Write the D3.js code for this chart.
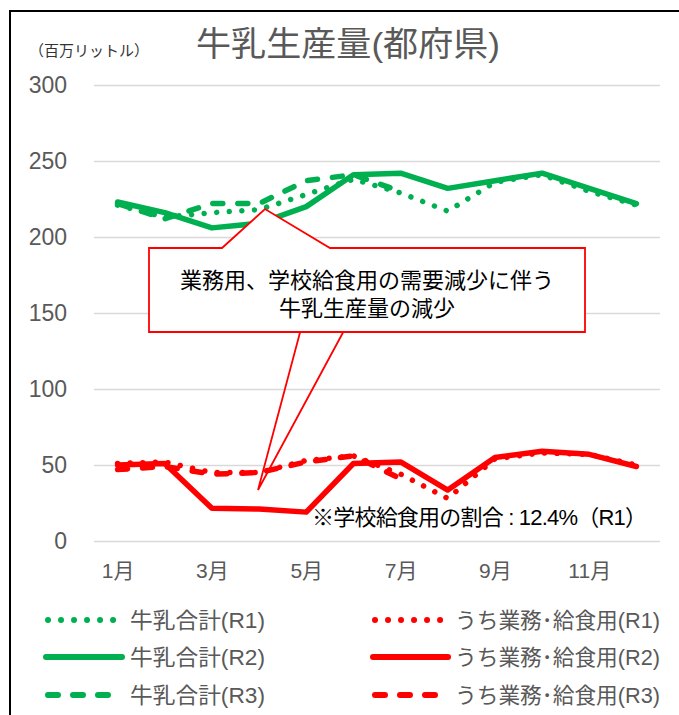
<!DOCTYPE html>
<html>
<head>
<meta charset="utf-8">
<script src="https://cdn.jsdelivr.net/npm/d3@7"></script>
<style>
  html, body { margin: 0; padding: 0; background: #fff; }
  svg { display: block; }
  text { font-family: "Liberation Sans", Arial, "Noto Sans CJK JP", sans-serif; }
</style>
</head>
<body>
<svg id="chart" width="679" height="715"></svg>
<script>
// Monthly milk production, prefectures excluding Hokkaido (million litres)
const months = ["1月","2月","3月","4月","5月","6月","7月","8月","9月","10月","11月","12月"];
const monthTickLabels = ["1月","3月","5月","7月","9月","11月"];
const yTicks = [0, 50, 100, 150, 200, 250, 300];

const milkTotalR1 = [221, 213, 216, 218, 228, 238, 229, 217, 236, 241, 230, 221];
const milkTotalR2 = [223, 216, 206, 209, 220, 241, 242, 232, 237, 242, 232, 222];
const milkTotalR3 = [222, 212, 222, 222, 237, 241, 230];
const bizSchoolR1 = [51, 52, 45, 45, 53, 56, 44, 28, 54, 58, 57, 50];
const bizSchoolR2 = [50, 51, 21.5, 21, 19, 51, 52, 33.5, 55, 59, 57, 49];
const bizSchoolR3 = [47, 49, 44, 45, 52, 56, 41];

const seriesNames = ["牛乳合計(R1)", "牛乳合計(R2)", "牛乳合計(R3)",
                     "うち業務･給食用(R1)", "うち業務･給食用(R2)", "うち業務･給食用(R3)"];

const titleText = "牛乳生産量(都府県)";
const unitText = "（百万リットル）";
const calloutLines = ["業務用、学校給食用の需要減少に伴う", "牛乳生産量の減少"];
const noteText = "※学校給食用の割合 : 12.4%（R1）";

const GREEN = "#00B050", RED = "#FF0000", GREY = "#595959";
const styles = {
  dot:   { dash: "0.01 12.6" },
  solid: { dash: null },
  dash:  { dash: "10 15" }
};

const series = [
  { name: seriesNames[0], values: milkTotalR1, color: GREEN, style: "dot" },
  { name: seriesNames[1], values: milkTotalR2, color: GREEN, style: "solid" },
  { name: seriesNames[2], values: milkTotalR3, color: GREEN, style: "dash" },
  { name: seriesNames[3], values: bizSchoolR1, color: RED, style: "dot" },
  { name: seriesNames[4], values: bizSchoolR2, color: RED, style: "solid" },
  { name: seriesNames[5], values: bizSchoolR3, color: RED, style: "dash" }
];

const svg = d3.select("#chart");

// chart area frame
svg.append("rect")
  .attr("x", 10).attr("y", 11).attr("width", 720).attr("height", 730)
  .attr("fill", "#fff").attr("stroke", "#000").attr("stroke-width", 2);

const x = d3.scalePoint().domain(months).range([94, 660]).padding(0.5);
const y = d3.scaleLinear().domain([0, 300]).range([541, 85]);

// gridlines + y labels
const yAxis = d3.axisLeft(y).tickValues(yTicks).tickSize(-(660 - 94)).tickPadding(27);
const gy = svg.append("g").attr("transform", "translate(94,0)").call(yAxis);
gy.select(".domain").remove();
gy.selectAll(".tick line").attr("stroke", "#d9d9d9").attr("stroke-width", 1.5);
gy.selectAll(".tick text").attr("fill", GREY).attr("font-size", 23)
  .attr("font-family", "'Liberation Sans', Arial, sans-serif");

// x labels
const xAxis = d3.axisBottom(x).tickValues(monthTickLabels).tickSize(0).tickPadding(0);
const gx = svg.append("g").attr("transform", "translate(0,571)").call(xAxis);
gx.select(".domain").remove();
gx.selectAll(".tick text").attr("fill", GREY).attr("font-size", 21).attr("dy", "0.35em")
  .attr("font-family", "'Liberation Sans', Arial, 'Noto Sans CJK JP', sans-serif");

// unit label and title
svg.append("text").attr("x", 29).attr("y", 50).attr("dominant-baseline", "central")
  .attr("font-size", 15).attr("fill", "#333").text(unitText);
svg.append("text").attr("x", 196).attr("y", 44).attr("dominant-baseline", "central")
  .attr("font-size", 34).attr("fill", GREY)
  .attr("textLength", 304).attr("lengthAdjust", "spacingAndGlyphs").text(titleText);

// data lines
const line = d3.line().x((d, i) => x(months[i])).y(d => y(d));
svg.append("g").selectAll("path").data(series).join("path")
  .attr("d", d => line(d.values))
  .attr("fill", "none")
  .attr("stroke", d => d.color)
  .attr("stroke-width", 5.5)
  .attr("stroke-linecap", "round")
  .attr("stroke-linejoin", "round")
  .attr("stroke-dasharray", d => styles[d.style].dash);

// callout box with pointers
const callout = svg.append("g");
callout.append("path")
  .attr("d", "M149,248 L222,248 L265,209 L330,248 L585,248 L585,332 L149,332 Z")
  .attr("fill", "#fff").attr("stroke", RED).attr("stroke-width", 1.8);
callout.append("path")
  .attr("d", "M300,332.5 L258,490 L343,332.5")
  .attr("fill", "none").attr("stroke", RED).attr("stroke-width", 1.8);
callout.selectAll("text.c").data(calloutLines).join("text")
  .attr("class", "c")
  .attr("x", 367).attr("y", (d, i) => 280 + i * 28)
  .attr("text-anchor", "middle").attr("dominant-baseline", "central")
  .attr("font-size", 22).attr("fill", "#000").text(d => d);

// note
svg.append("text").attr("x", 312).attr("y", 517).attr("dominant-baseline", "central")
  .attr("font-size", 22).attr("fill", "#000")
  .attr("textLength", 335).attr("lengthAdjust", "spacing").text(noteText);

// legend
const legendCols = [
  { x0: 46, x1: 120, tx: 130, tw: 135 },
  { x0: 373, x1: 446, tx: 455, tw: 205 }
];
const legendRows = [620, 657, 695];
const lg = svg.append("g").selectAll("g").data(series).join("g")
  .attr("transform", (d, i) => `translate(0,${legendRows[i % 3]})`);
lg.append("line")
  .attr("x1", (d, i) => legendCols[Math.floor(i / 3)].x0 + (d.style === "solid" ? 0 : 2))
  .attr("x2", (d, i) => legendCols[Math.floor(i / 3)].x1 + (d.style === "solid" ? 2 : -4))
  .attr("y1", 0).attr("y2", 0)
  .attr("stroke", d => d.color).attr("stroke-width", 6)
  .attr("stroke-linecap", "round")
  .attr("stroke-dasharray", d => d.style === "dot" ? "0.01 13" : styles[d.style].dash);
lg.append("text")
  .attr("x", (d, i) => legendCols[Math.floor(i / 3)].tx)
  .attr("y", 0).attr("dominant-baseline", "central")
  .attr("font-size", 22).attr("fill", GREY)
  .attr("textLength", (d, i) => legendCols[Math.floor(i / 3)].tw)
  .attr("lengthAdjust", "spacingAndGlyphs")
  .text(d => d.name);
</script>
</body>
</html>
